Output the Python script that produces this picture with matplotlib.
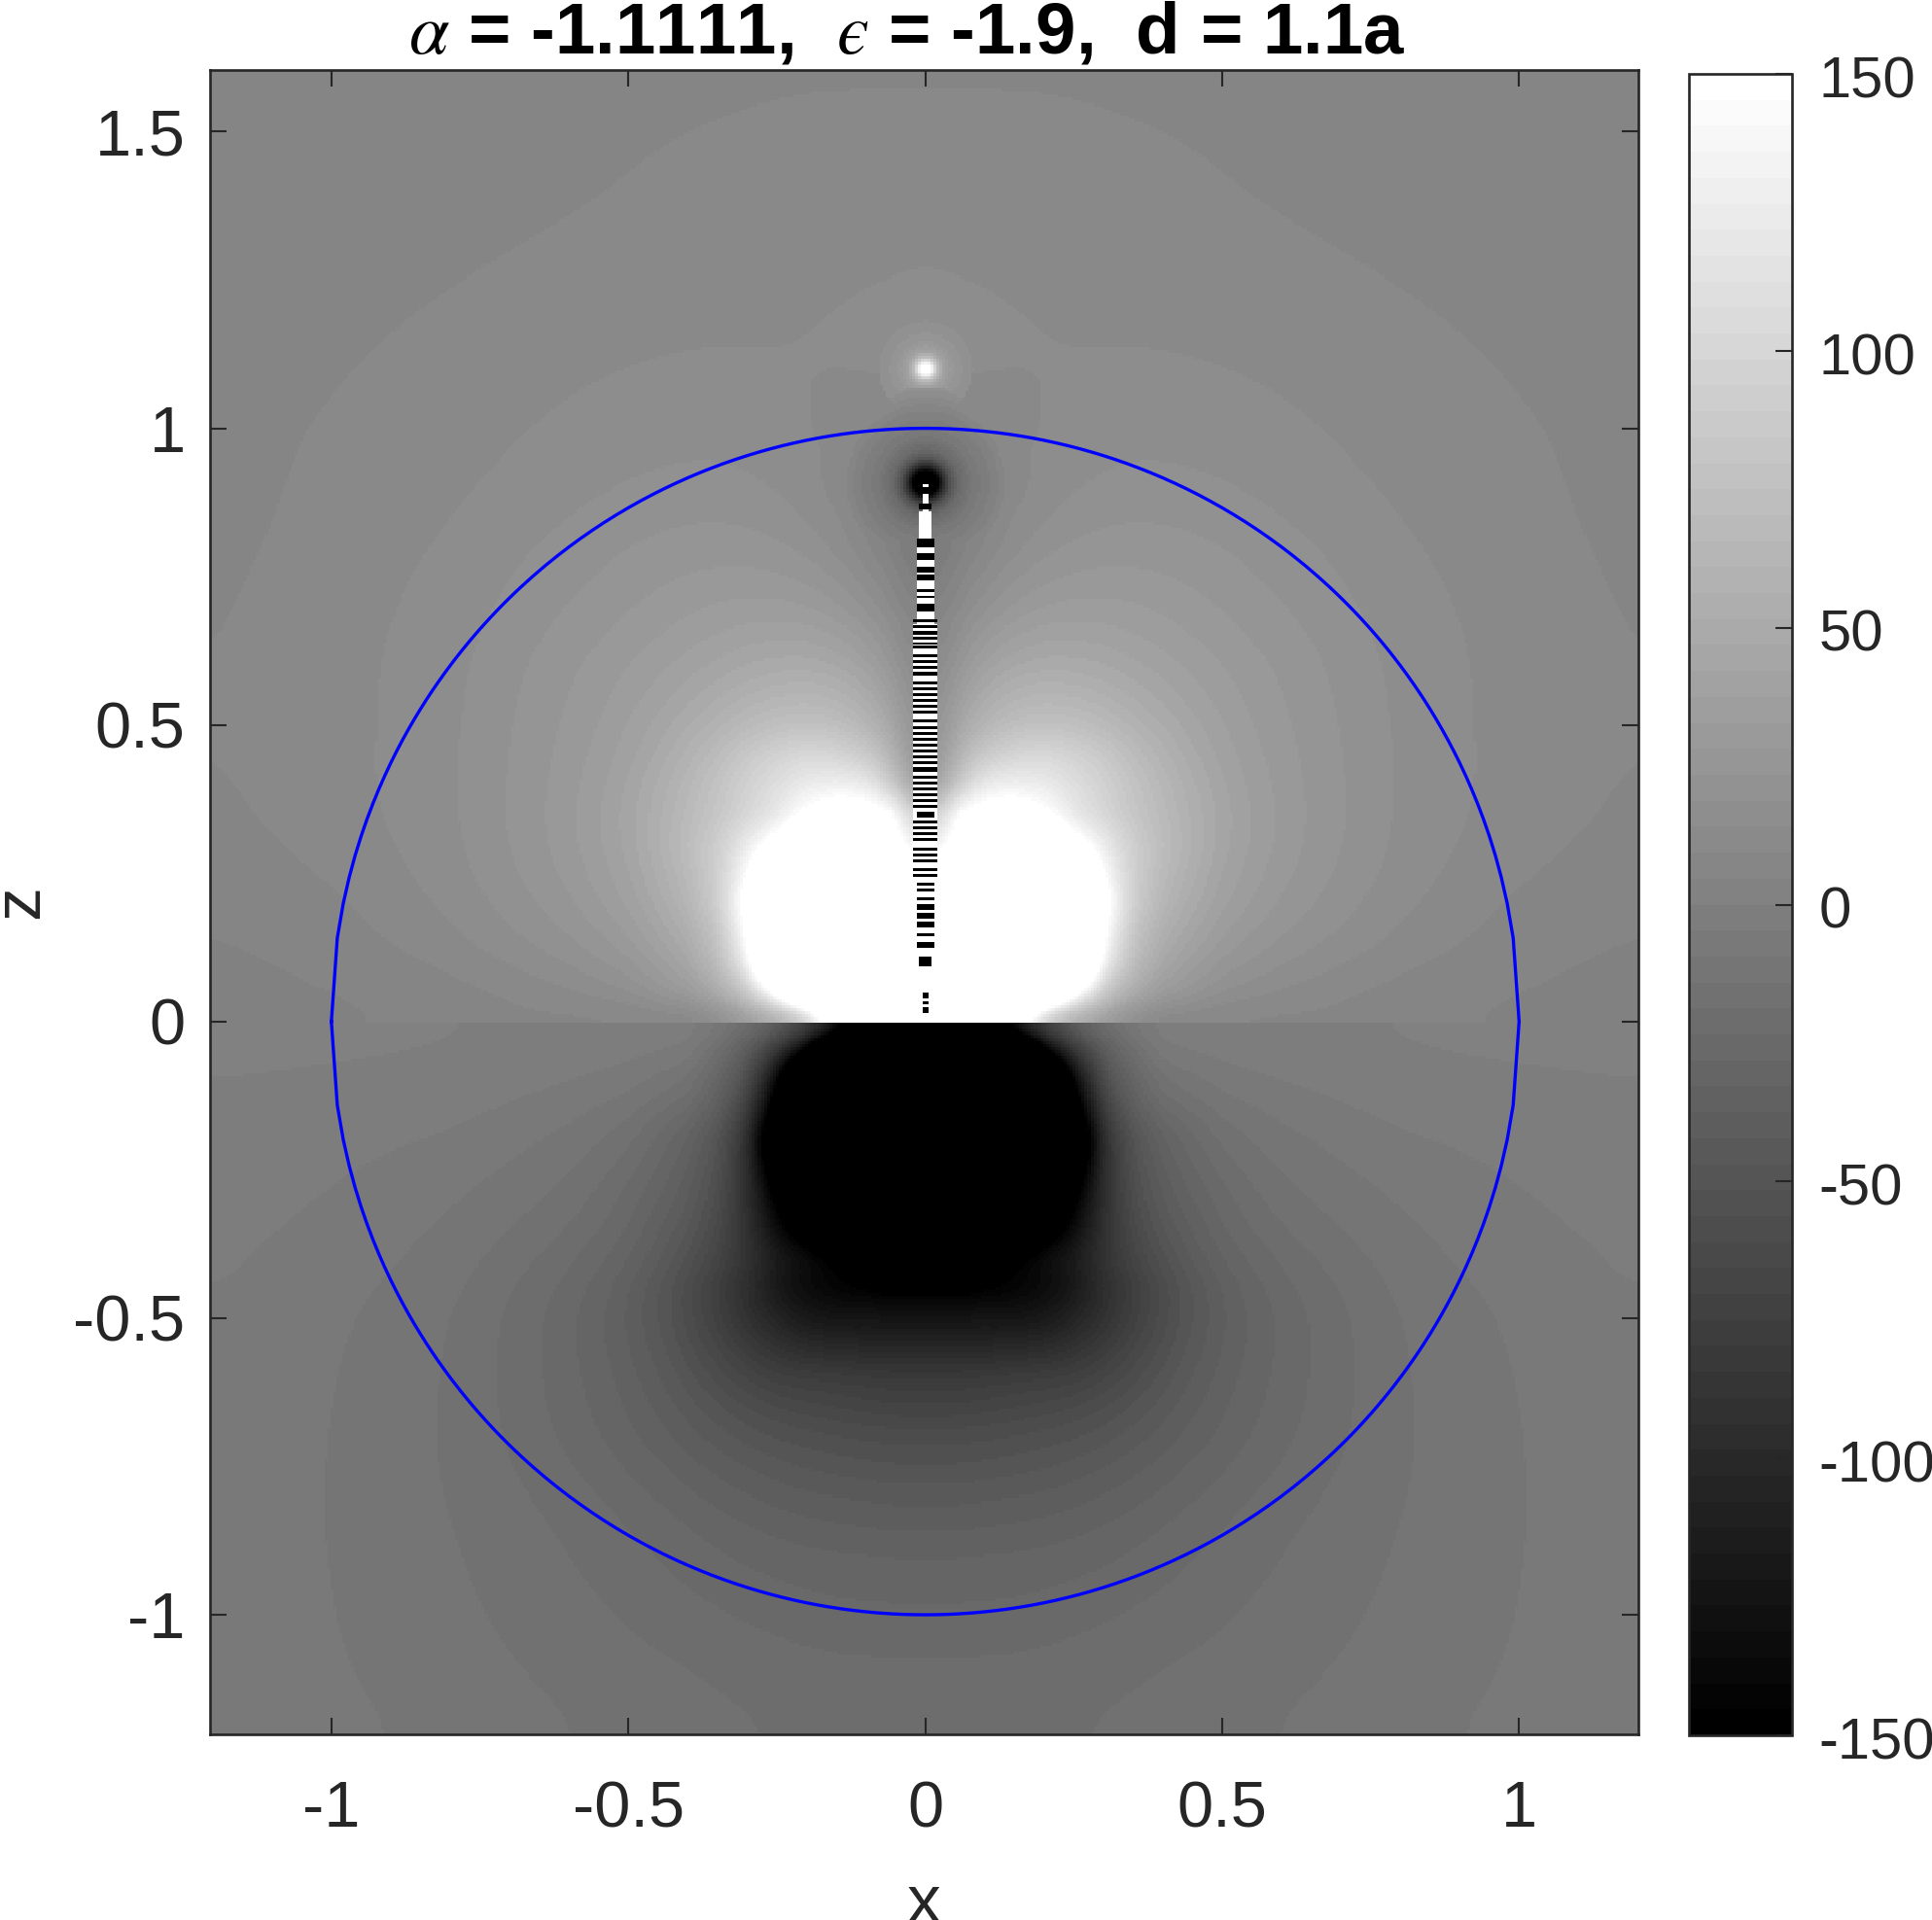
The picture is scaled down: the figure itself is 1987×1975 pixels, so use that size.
import numpy as np
import matplotlib
matplotlib.use("Agg")
import matplotlib.pyplot as plt
from matplotlib.transforms import ScaledTranslation

plt.rcParams['font.family'] = ['Liberation Sans', 'DejaVu Sans']
plt.rcParams['mathtext.fontset'] = 'stix'

TXT = '#262626'

x_cols = [.025, .05, .1, .15, .2, .25, .3, .35, .4, .5, .6, .8, 1.0, 1.2]
z_rows = [1.6, 1.45, 1.27, 1.15, 1.07, 1.0, .95, .9, .8, .7, .6, .5, .45, .4, .35, .3, .2, .1, .05, .02, 0.0,
          -.004, -.02, -.04, -.1, -.2, -.3, -.4, -.45, -.5, -.6, -.7, -.8, -.9, -1.0, -1.1, -1.2]
field_rows = [
    [9, 9, 9, 8.9, 8.8, 8.7, 8.6, 8.5, 8.3, 8, 7.7, 7, 6.2, 5.5],
    [11.1, 11.1, 11, 10.9, 10.8, 10.6, 10.4, 10.2, 10, 9.2, 8.6, 7.8, 6.8, 6],
    [14.1, 13.9, 13.6, 13.2, 12.8, 12.4, 12, 11.6, 11.3, 10.6, 10.1, 8.9, 7.6, 6.5],
    [15.5, 15.5, 15.3, 14.8, 14.3, 14.1, 14.1, 14.1, 14.1, 13.5, 12.5, 10.4, 8.6, 7.2],
    [13.5, 13.5, 13.5, 13.6, 14, 14.6, 14.8, 14.9, 14.9, 14.5, 13.8, 11.3, 9.2, 7.6],
    [8, 9, 11, 13, 14.1, 15.2, 16.2, 17, 17.2, 16.5, 15, 12, 9.8, 8],
    [9, 9.5, 11.5, 13.5, 15, 17, 18.2, 18.8, 18.3, 17.5, 16, 12.7, 10, 8],
    [4, 4, 8, 12, 15, 18, 20, 20.8, 20.6, 18.8, 16.8, 13, 10.2, 8],
    [-6, 1, 10, 17, 22, 24.5, 25.5, 25.7, 25.5, 24, 20.5, 14.8, 10.8, 8.3],
    [5, 12, 22, 29, 33, 34, 34, 33, 32, 27, 23.4, 16, 11.8, 8.7],
    [15, 25, 40, 47, 50, 49, 46, 43, 38.5, 33, 27.5, 17, 12.2, 9],
    [25, 42, 62, 72, 75, 72, 66, 57, 50, 36, 29, 17.3, 12, 9.1],
    [30, 55, 88, 100, 105, 100, 88, 72, 58, 38, 29.5, 17.5, 12, 9],
    [40, 80, 125, 130, 125, 110, 95, 78, 64, 42, 30, 17.8, 12, 8.8],
    [95, 150, 170, 172, 155, 120, 98, 80, 66, 44, 31, 17.5, 11.8, 8.2],
    [130, 160, 230, 240, 220, 165, 125, 90, 70, 43, 31, 17, 11.5, 7.5],
    [250, 250, 300, 300, 300, 300, 165, 91, 60, 38, 27, 15.5, 8, 5],
    [300, 300, 300, 300, 300, 300, 130, 70, 45, 27, 20, 11, 6, 3.8],
    [300, 300, 300, 300, 290, 165, 80, 50, 32, 18, 13.5, 7, 4.5, 3.2],
    [300, 300, 300, 280, 130, 85, 55, 30, 17, 9, 6.5, 4.5, 3.2, 2.6],
    [300, 300, 250, 120, 60, 32, 17, 10, 6, 3, 2.5, 2.2, 2.2, 2.2],
    [-300, -300, -170, -90, -50, -30, -15, -8, -2.5, .3, .8, 1.2, 1.5, 1.8],
    [-300, -300, -300, -130, -85, -50, -25, -10, -2.5, -.5, .3, .8, 1.2, 1.5],
    [-300, -300, -300, -300, -130, -75, -38, -18, -4.7, -1.8, -.1, .4, .8, 1.2],
    [-300, -300, -300, -300, -300, -140, -55, -30, -14, -7, -4.5, -1.2, -.3, 0],
    [-300, -300, -300, -300, -300, -220, -90, -50, -33, -17, -11, -5.2, -3.5, -2],
    [-300, -300, -300, -300, -210, -155, -90, -55, -40, -25, -15, -9, -4.7, -3],
    [-300, -300, -165, -148, -130, -115, -85, -65, -50, -30, -21, -11, -6.8, -3.6],
    [-150, -150, -147, -143, -137, -125, -95, -78, -60, -38, -26, -12.8, -7.8, -4.3],
    [-124, -124, -124, -125, -122, -112, -92, -75, -58, -38, -27, -13.5, -8.5, -4.7],
    [-80, -80, -78, -75, -72, -70, -66, -57, -48, -34, -26, -14.2, -9, -6],
    [-58, -58, -57, -55.5, -53.5, -51, -48, -44, -40, -32, -25, -14.5, -9.3, -6.3],
    [-44, -44, -43, -42, -41, -39, -37, -34, -31, -25, -20.5, -14.2, -9.5, -6.5],
    [-33, -33, -32.5, -32, -31, -30, -28.5, -27, -25, -21.5, -18.5, -13.5, -9.4, -6.5],
    [-27, -27, -26.8, -26.5, -26, -25, -24, -23, -22, -19.5, -17, -12.8, -9.2, -6.5],
    [-22, -22, -22, -21.8, -21.3, -20.5, -19.8, -19, -18, -16.5, -15.3, -12, -8.8, -6.5],
    [-19, -19, -19, -18.9, -18.7, -18.4, -18, -17.3, -16.5, -15, -13.5, -10.2, -8, -6.5],
]

# radial profiles of the two bright/dark spots
spot_hi_z = 1.1
spot_hi_r = [0, .008, .015, .02, .03, .05, .08]
spot_hi_v = [300, 150, 100, 70, 40, 26, 18.8]
spot_lo_z = .908
spot_lo_r = [0, .02, .03, .04, .055, .08, .12, .16]
spot_lo_v = [-300, -150, -95, -55, -25, -8, 4, 20]

# black dashes on the centre line
dash_top = [.8724, .8134, .7889, .7671, .7529, .7289, .7180, .7037, .6945, .6781, .6691, .6579, .6481, .6389,
            .6334, .6187, .6088, .5990, .5892, .5728, .5630, .5532, .5434, .5336, .5237, .5090, .4975, .4877,
            .4779, .4681, .4583, .4484, .4386, .4288, .4141, .4043, .3944, .3846, .3748, .3650, .3535, .3388,
            .3290, .3190, .3093, .2930, .2831, .2733, .2586, .2488, .2340, .2242, .2095, .1980, .1833, .1686,
            .1489, .1342, .1097, .0491, .0344, .0245]
dash_bot = [.8625, .7987, .7780, .7573, .7442, .7245, .7136, .6950, .6907, .6727, .6636, .6525, .6437, .6360,
            .6285, .6142, .6044, .5946, .5827, .5684, .5586, .5488, .5390, .5291, .5193, .5041, .4931, .4833,
            .4735, .4637, .4539, .4440, .4342, .4206, .4097, .3998, .3900, .3802, .3704, .3606, .3437, .3344,
            .3246, .3147, .3044, .2881, .2782, .2684, .2542, .2444, .2291, .2193, .2046, .1882, .1735, .1588,
            .1440, .1244, .0933, .0393, .0295, .0147]
dash_half = [.01, .0147, .0147, .0147, .0147, .0147, .0147, .0147, .0147, .02, .02, .02, .02, .02,
             .02, .02, .02, .02, .02, .02, .02, .02, .02, .02, .02, .02, .02, .02,
             .02, .02, .02, .02, .02, .02, .02, .02, .02, .02, .02, .02, .0147, .02,
             .02, .02, .02, .02, .02, .02, .02, .02, .0147, .0147, .0147, .0147, .0147, .0147,
             .0147, .0147, .01, .005, .005, .005]

strip_z = [.03, .67, .67, .80, .80, .86, .86, .89]
strip_half = [.02, .02, .0147, .0147, .01, .01, .005, .005]

x_ticks = [-1, -.5, 0, .5, 1]
x_labels = ['-1', '-0.5', '0', '0.5', '1']
z_ticks = [-1, -.5, 0, .5, 1, 1.5]
z_labels = ['-1', '-0.5', '0', '0.5', '1', '1.5']
cb_ticks = [-150, -100, -50, 0, 50, 100, 150]

W, H = 1987, 1975
fig = plt.figure(figsize=(W / 100, H / 100), dpi=100)
ax = fig.add_axes([215.6 / W, 1 - 1784 / H, (1684.5 - 215.6) / W, (1784 - 72) / H])


def box(a, n, axis):
    a = np.moveaxis(a, axis, 0)
    p = np.pad(a, [(n, n)] + [(0, 0)] * (a.ndim - 1), mode='reflect')
    c = np.cumsum(np.concatenate([np.zeros_like(p[:1]), p]), axis=0)
    out = (c[2 * n + 1:] - c[:-2 * n - 1]) / (2 * n + 1)
    return np.moveaxis(out, 0, axis)


def soften(a, n, passes):
    for _ in range(passes):
        a = box(box(a, n, 0), n, 1)
    return a


# sample the read table on a fine raster
gx = np.arange(-1.21, 1.2101, .005)
gz = np.arange(-1.21, 1.6101, .005)
cols = np.array(x_cols)
rows = np.array(z_rows)[::-1]
tab = np.array(field_rows, float)[::-1]
by_row = np.array([np.interp(np.abs(gx), cols, r) for r in tab])
field = np.array([np.interp(gz, rows, by_row[:, j]) for j in range(gx.size)]).T

XX, ZZ = np.meshgrid(gx, gz)
split = np.searchsorted(gz, -.002)
weight = np.clip((np.hypot(XX, ZZ) - .4) / .3, 0, 1) * np.clip((np.abs(XX) - .1) / .15, 0, 1)
for part in (slice(0, split), slice(split, None)):
    narrow = soften(field[part], 3, 2)
    wide = soften(field[part], 10, 3)
    field[part] = weight[part] * wide + (1 - weight[part]) * narrow

r_hi = np.hypot(XX, ZZ - spot_hi_z)
r_lo = np.hypot(XX, ZZ - spot_lo_z)
field = np.where(r_hi < .08, np.maximum(field, np.interp(r_hi, spot_hi_r, spot_hi_v)), field)
field = np.where(r_lo < .16, np.minimum(field, np.interp(r_lo, spot_lo_r, spot_lo_v)), field)

cmap = plt.get_cmap('gray', 64)
im = ax.imshow(field, origin='lower', extent=[gx[0] - .0025, gx[-1] + .0025, gz[0] - .0025, gz[-1] + .0025],
               cmap=cmap, vmin=-150, vmax=150, interpolation='nearest', aspect='auto')

ax.fill_betweenx(strip_z, -np.array(strip_half), strip_half, color='white', lw=0, zorder=2)
top, bot, half = np.array(dash_top), np.array(dash_bot), np.array(dash_half)
ax.barh((top + bot) / 2, 2 * half, height=top - bot, left=-half, color='black', lw=0, zorder=3, antialiased=False)
ax.barh([.8870, .9034], [.01, .01], height=[.0055, .006], left=[-.005, -.005], color='white', lw=0, zorder=3)

cx = np.arange(-100, 101) / 100
cz = np.sqrt(1 - cx ** 2)
ax.plot(np.r_[cx, cx[::-1]], np.r_[cz, -cz[::-1]], color=(0, 0, 1), lw=2.4, zorder=4, solid_joinstyle='round')

ax.set_xlim(-1.205, 1.2)
ax.set_ylim(-1.2015, 1.604)
ax.set_xticks(x_ticks, x_labels)
ax.set_yticks(z_ticks, z_labels)
ax.tick_params(direction='in', length=12, width=1.5, top=True, right=True, color=TXT, labelcolor=TXT,
               labelsize=48)
ax.tick_params(axis='x', pad=34)
ax.tick_params(axis='y', pad=18)
for s in ax.spines.values():
    s.set_linewidth(1.9)
    s.set_color(TXT)
ax.set_xlabel('x', fontsize=50, color=TXT, labelpad=24)
ax.set_ylabel('z', fontsize=50, color=TXT, labelpad=16)

fig.text(933 / W, 1 - 54 / H, '$\\alpha$ = -1.1111,  $\u03f5$ = -1.9,  d = 1.1a', fontsize=53.6,
         fontweight='bold', color='black', ha='center', va='baseline')

cax = fig.add_axes([1737 / W, 1 - 1785 / H, (1843 - 1737) / W, (1785 - 76) / H])
cb = fig.colorbar(im, cax=cax)
cb.set_ticks(cb_ticks, labels=[str(t) for t in cb_ticks])
cax.tick_params(direction='in', length=12, width=1.5, color=TXT, labelcolor=TXT, labelsize=43, pad=20)
cb.outline.set_linewidth(1.9)
cb.outline.set_edgecolor(TXT)
for lab in cax.get_yticklabels():
    lab.set_transform(lab.get_transform() + ScaledTranslation(0, -2 / 72, fig.dpi_scale_trans))

fig.savefig('out.png', dpi=100)
